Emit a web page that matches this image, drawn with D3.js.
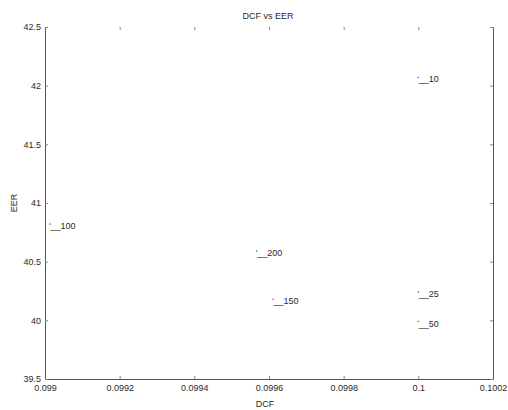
<!DOCTYPE html>
<html>
<head>
<meta charset="utf-8">
<script src="https://cdn.jsdelivr.net/npm/d3@7"></script>
<style>
  body { margin: 0; background: #fff; }
  text { font-family: "Liberation Sans", Arial, sans-serif; fill: #2a2a2a; }
</style>
</head>
<body>
<script>
var width = 508, height = 410;

// data
var labels = ["10", "25", "50", "100", "150", "200"];
var dcf = [0.1, 0.1, 0.1, 0.0990134, 0.099611, 0.099567];
var eer = [42.07, 40.24, 39.99, 40.82, 40.18, 40.59];
var xTicks = [0.099, 0.0992, 0.0994, 0.0996, 0.0998, 0.1, 0.1002];
var xTickLabels = ["0.099", "0.0992", "0.0994", "0.0996", "0.0998", "0.1", "0.1002"];
var yTicks = [39.5, 40, 40.5, 41, 41.5, 42, 42.5];
var yTickLabels = ["39.5", "40", "40.5", "41", "41.5", "42", "42.5"];

var margin = {left: 45, right: 15, top: 27, bottom: 31};
var fs = "9px";

var svg = d3.select("body").append("svg")
  .attr("width", width)
  .attr("height", height);

var x = d3.scaleLinear().domain([0.099, 0.1002]).range([margin.left, width - margin.right]);
var y = d3.scaleLinear().domain([39.5, 42.5]).range([height - margin.bottom, margin.top]);

// axes (ticks point inward, like matlab)
var xAxis = d3.axisBottom(x).tickValues(xTicks).tickSizeInner(-3).tickSizeOuter(0)
  .tickFormat(function(d, i) { return xTickLabels[i]; }).tickPadding(6);
var xTop = d3.axisTop(x).tickValues(xTicks).tickSizeInner(-3).tickSizeOuter(0).tickFormat("");
var yAxis = d3.axisLeft(y).tickValues(yTicks).tickSizeInner(-3).tickSizeOuter(0)
  .tickFormat(function(d, i) { return yTickLabels[i]; }).tickPadding(4);
var yRight = d3.axisRight(y).tickValues(yTicks).tickSizeInner(-3).tickSizeOuter(0).tickFormat("");

var gx = svg.append("g").attr("transform", "translate(0," + (height - margin.bottom) + ")").call(xAxis);
var gt = svg.append("g").attr("transform", "translate(0," + margin.top + ")").call(xTop);
var gy = svg.append("g").attr("transform", "translate(" + margin.left + ",0)").call(yAxis);
var gr = svg.append("g").attr("transform", "translate(" + (width - margin.right) + ",0)").call(yRight);

[gx, gt, gy, gr].forEach(function(g) {
  g.selectAll("text").style("font-size", fs).style("font-family", "Liberation Sans, Arial, sans-serif").attr("fill", "#2a2a2a");
  g.selectAll("line").attr("stroke", "#8a8a8a");
  g.select(".domain").attr("stroke", "#555");
});
gt.select(".domain").attr("stroke", "none");

// title and axis labels
svg.append("text").attr("x", (margin.left + width - margin.right) / 2 - 1).attr("y", 19)
  .attr("text-anchor", "middle").style("font-size", fs).text("DCF vs EER");
svg.append("text").attr("x", (margin.left + width - margin.right) / 2 - 4).attr("y", 407)
  .attr("text-anchor", "middle").style("font-size", fs).text("DCF");
svg.append("text").attr("transform", "translate(17," + (margin.top + (height - margin.bottom - margin.top) / 2) + ") rotate(-90)")
  .attr("text-anchor", "middle").style("font-size", fs).text("EER");

// points
var pts = svg.selectAll(".pt").data(labels).enter().append("g").attr("class", "pt");

pts.append("circle")
  .attr("cx", function(d, i) { return x(dcf[i]); })
  .attr("cy", function(d, i) { return y(eer[i]); })
  .attr("r", 0.8)
  .attr("fill", "#666");

pts.append("text")
  .attr("x", function(d, i) { return x(dcf[i]) + 0.5; })
  .attr("y", function(d, i) { return y(eer[i]) + 5; })
  .style("font-size", fs)
  .text(function(d) { return "__" + d; });
</script>
</body>
</html>
